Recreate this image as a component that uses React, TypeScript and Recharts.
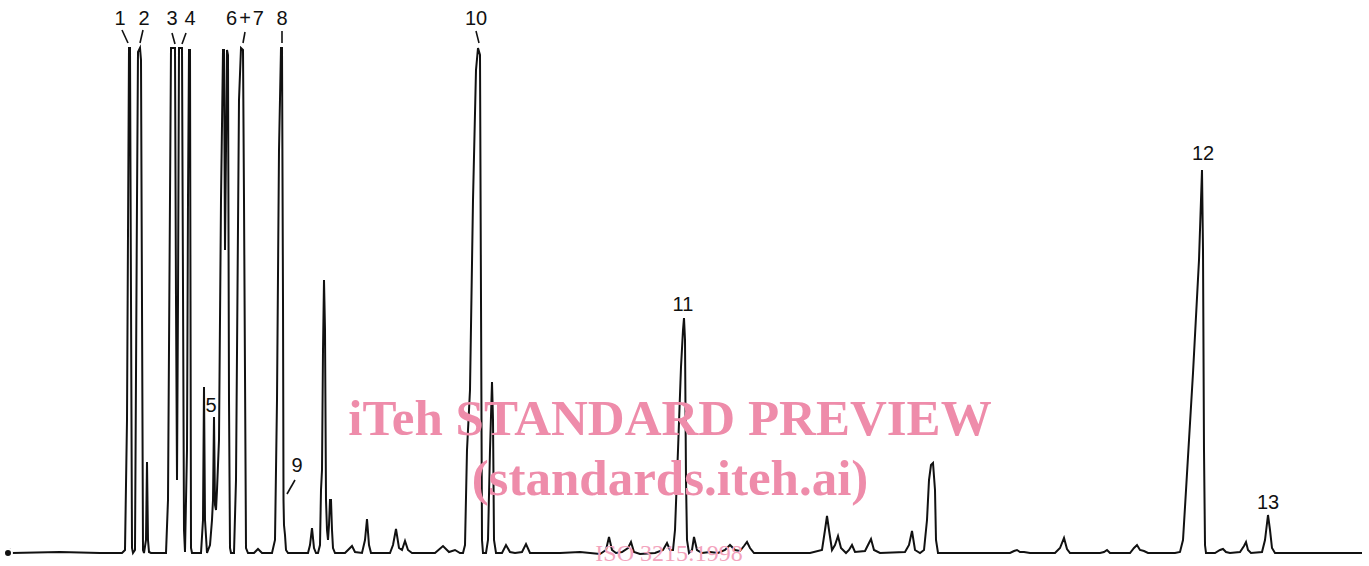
import { LineChart, Line, XAxis, YAxis, ReferenceDot, ReferenceLine } from "recharts";

// retention position (arbitrary units) and detector response above baseline
const retention = [
  8, 10, 12, 60, 100, 122,
  125, 127, 129, 130, 132, 133,
  135, 137, 138, 140, 141, 143, 144,
  146, 147, 148, 149, 151,
  166, 168, 171, 175, 176, 177, 178, 179, 182, 184, 185,
  187, 188, 189, 190, 191, 192,
  201, 203, 204, 205, 207,
  210, 212, 213, 214, 215, 216, 217, 219, 221, 223, 224, 225, 226, 227, 228, 229, 230, 231,
  234, 236, 239, 241, 243, 244, 246, 248,
  254, 258, 262,
  272, 275, 277, 279, 281, 282, 283, 283.5, 284, 285, 286, 288,
  300, 308, 310, 312, 314, 316,
  318, 320, 321, 322, 323, 324, 325, 326, 327, 328, 329, 330, 331, 332, 333, 335,
  345, 348, 352, 355, 362, 365, 367, 369, 371,
  390, 393, 396, 399, 402, 405, 408, 412,
  435, 443, 449, 455, 460,
  463, 465, 467, 470, 473, 476, 478, 480, 481, 482, 483,
  486, 488, 490, 492, 493, 494, 496,
  502, 506, 510, 515, 522, 526, 530,
  560, 580, 600, 606, 609, 612, 616, 622, 628, 631, 634, 640, 655, 663, 667, 670,
  673, 675, 678, 681, 683, 684, 685, 686, 687, 689,
  692, 694, 697, 702, 710, 718, 725, 730, 735, 740, 744, 747, 750, 754,
  790, 810, 822, 825, 827, 829, 832, 835, 838, 841, 846, 849, 852, 855, 865, 868, 871, 874, 880,
  905, 909, 912, 915, 920, 924, 927, 929, 931, 933, 935, 936, 938,
  960, 990, 1010, 1014, 1017, 1020, 1024, 1030, 1055, 1060, 1064, 1067, 1070,
  1100, 1104, 1107, 1110, 1130, 1134, 1137, 1140, 1144, 1148, 1175,
  1180, 1183, 1185, 1193, 1199, 1201, 1202, 1203, 1204, 1205, 1206,
  1215, 1220, 1223, 1226, 1230, 1240, 1244, 1246, 1248, 1251, 1262, 1265, 1268, 1270, 1272, 1275,
  1300, 1362,
];

const response = [
  0, 3, 0, 1, 0, 0,
  3, 133, 505, 505, 5, 0,
  3, 353, 501, 505, 493, 3, 0,
  13, 91, 13, 1, 0,
  0, 53, 505, 505, 253, 73, 253, 505, 505, 23, 1,
  103, 353, 503, 503, 5, 0,
  0, 33, 166, 33, 0,
  8, 33, 53, 136, 48, 43, 63, 113, 353, 503, 503, 303, 403, 503, 498, 153, 5, 0,
  0, 73, 453, 505, 503, 353, 5, 0,
  0, 4, 0,
  0, 13, 153, 403, 505, 505, 253, 53, 28, 18, 3, 0,
  0, 0, 8, 25, 5, 0,
  0, 8, 63, 83, 203, 273, 223, 53, 23, 13, 28, 53, 53, 23, 5, 0,
  0, 3, 7, 1, 0, 13, 34, 8, 0,
  0, 8, 24, 5, 3, 12, 3, 0,
  0, 7, 1, 3, 0,
  0, 8, 103, 163, 353, 483, 505, 498, 253, 13, 0,
  0, 13, 103, 171, 133, 13, 0,
  0, 8, 1, 0, 1, 9, 0,
  0, 1, -1, 3, 16, 3, 0, 1, 5, 11, 1, -1, 0, 3, 10, 3,
  3, 23, 103, 186, 223, 235, 213, 73, 13, 0,
  3, 16, 3, 0, 1, 0, 3, 8, 3, 2, 7, 11, 5, 0,
  0, 0, 3, 23, 37, 23, 3, 8, 17, 5, 0, 3, 8, 1, 2, 8, 14, 3, 0,
  1, 8, 22, 3, 0, 3, 33, 73, 88, 90, 63, 13, 0,
  0, 0, 0, 2, 3, 1, 1, 0, 0, 5, 15, 4, 0,
  0, 1, 3, 0, 0, 5, 8, 3, 2, 0, 0,
  1, 13, 46, 180, 293, 353, 383, 303, 103, 8, 0,
  0, 3, 4, 1, 0, 1, 7, 11, 3, 0, 1, 13, 38, 23, 5, 0,
  0, 0,
];

// peak numbers and where they sit
const peakNames = ["1", "2", "3", "4", "5", "6+7", "8", "9", "10", "11", "12", "13"];
const peakLabelRt = [120, 144, 172, 190, 211, 246, 282, 297, 476, 683, 1203, 1268];
const peakLabelHeight = [535, 535, 535, 535, 148, 535, 535, 88, 535, 249, 400, 51];

// leader ticks from label to peak
const leaderRt = [
  [122, 128],
  [143, 140],
  [172, 175],
  [186, 182],
  [245, 243],
  [282, 282],
  [295, 287],
  [476, 479],
];
const leaderHeight = [
  [523, 510],
  [523, 510],
  [520, 509],
  [520, 509],
  [521, 510],
  [522, 510],
  [73, 59],
  [522, 510],
];

const data = retention.map((rt, i) => ({ rt, signal: response[i] }));

const ink = "#111";
const pink = "#ee8caa";

const watermark = {
  position: "absolute" as const,
  left: 0,
  width: 1340,
  textAlign: "center" as const,
  fontFamily: "'Liberation Serif', 'Times New Roman', serif",
  fontWeight: "bold" as const,
  fontSize: 51,
  lineHeight: "52px",
  color: pink,
  pointerEvents: "none" as const,
};

export default function App() {
  return (
    <div style={{ position: "absolute", left: 0, top: 0, width: 1369, height: 566, background: "#fff", overflow: "hidden" }}>
      <LineChart width={1369} height={566} data={data} margin={{ top: 0, right: 0, bottom: 0, left: 0 }}>
        <XAxis type="number" dataKey="rt" domain={[0, 1369]} allowDataOverflow hide />
        <YAxis type="number" domain={[-13, 553]} allowDataOverflow hide />
        <Line
          type="linear"
          dataKey="signal"
          stroke={ink}
          strokeWidth={2}
          dot={false}
          isAnimationActive={false}
        />
        {leaderRt.map((pair, i) => (
          <ReferenceLine
            key={"l" + i}
            segment={[
              { x: pair[0], y: leaderHeight[i][0] },
              { x: pair[1], y: leaderHeight[i][1] },
            ]}
            stroke={ink}
            strokeWidth={1.6}
            ifOverflow="visible"
          />
        ))}
        {peakNames.map((name, i) => (
          <ReferenceDot
            key={"p" + i}
            x={peakLabelRt[i]}
            y={peakLabelHeight[i]}
            r={0}
            fill="none"
            stroke="none"
            ifOverflow="visible"
            label={{
              value: name,
              position: "center",
              fill: ink,
              fontSize: 20,
              letterSpacing: name === "6+7" ? 2 : 0,
              fontFamily: "'Liberation Sans', Arial, sans-serif",
            }}
          />
        ))}
      </LineChart>
      <div style={{ ...watermark, top: 392 }}>iTeh STANDARD PREVIEW</div>
      <div style={{ ...watermark, top: 452 }}>(standards.iteh.ai)</div>
      <div
        style={{
          position: "absolute",
          left: 0,
          width: 1338,
          top: 540,
          textAlign: "center",
          fontFamily: "'Liberation Serif', 'Times New Roman', serif",
          fontSize: 24,
          lineHeight: "26px",
          color: "#f3a3bd",
          pointerEvents: "none",
        }}
      >
        ISO 3215:1998
      </div>
    </div>
  );
}
